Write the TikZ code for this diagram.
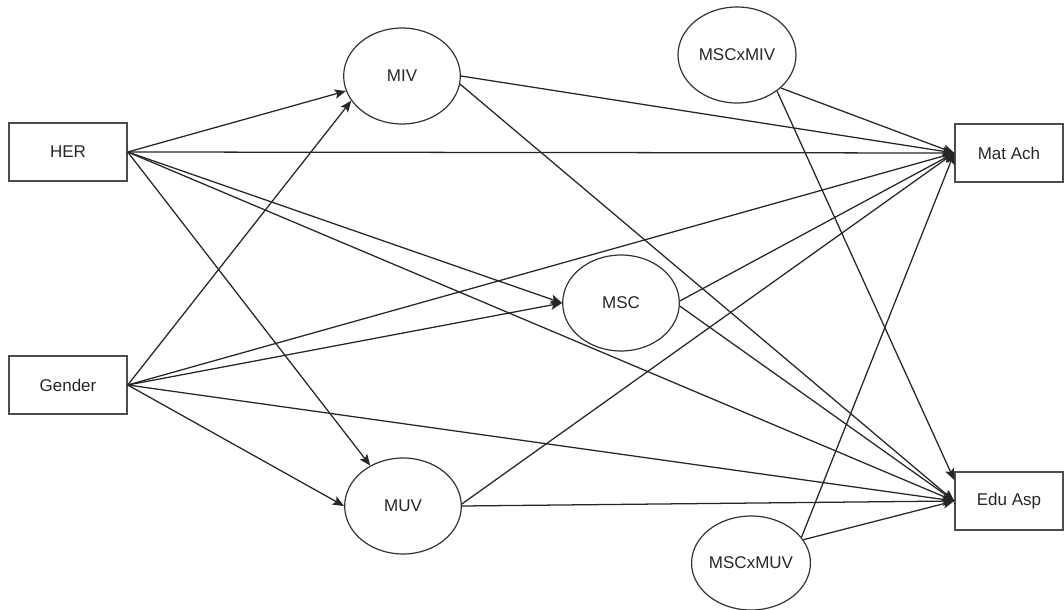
\documentclass[tikz,border=0pt]{standalone}
\usepackage{fontspec}
\setmainfont{Liberation Sans}
\usetikzlibrary{shapes.geometric,arrows.meta}
\begin{document}
\begin{tikzpicture}[x=0.75pt,y=-0.75pt,
  every node/.style={font=\fontsize{12.75}{15}\selectfont, text=black!85},
  boxnode/.style={draw=black!70, line width=1.1pt, rectangle, inner sep=0pt, minimum width=88.5pt, minimum height=43.5pt},
  ovalnode/.style={draw=black!80, line width=0.9pt, ellipse, inner sep=0pt, minimum width=87.5pt, minimum height=72pt},
  link/.style={draw=black!85, line width=0.95pt},
  arr/.style={link, -{Stealth[length=8.5pt,width=7pt,inset=1.8pt]}}
]
\useasboundingbox (0,0) rectangle (1064,610);

% boxes
\node[boxnode] (HER) at (68,152) {HER};
\node[boxnode] (Gender) at (68,385) {Gender};
\node[boxnode, minimum width=81pt] (MatAch) at (1009,153) {Mat Ach};
\node[boxnode, minimum width=81pt] (EduAsp) at (1009,501) {Edu Asp};

% ellipses
\node[ovalnode] (MIV) at (402,76) {MIV};
\node[ovalnode] (MSC) at (621,303) {MSC};
\node[ovalnode] (MUV) at (403,506) {MUV};
\node[ovalnode, minimum width=88.5pt] (MSCxMIV) at (737,55) {MSCxMIV};
\node[ovalnode, minimum width=88.5pt, minimum height=70.5pt] (MSCxMUV) at (751,563) {MSCxMUV};

\coordinate (eduup) at ([yshift=15.75pt]EduAsp.west);

% from HER
\draw[arr] (HER.east) -- (MIV.195);
\draw[arr] (HER.east) -- (MatAch.west);
\draw[arr] (HER.east) -- (MSC.west);
\draw[arr] (HER.east) -- (EduAsp.west);
\draw[arr] (HER.east) -- (MUV.129);

% from Gender
\draw[arr] (Gender.east) -- (MIV.206);
\draw[arr] (Gender.east) -- (MatAch.west);
\draw[arr] (Gender.east) -- (MSC.west);
\draw[arr] (Gender.east) -- (EduAsp.west);
\draw[arr] (Gender.east) -- (MUV.west);

% from mediators
\draw[arr] (MIV.east) -- (MatAch.west);
\draw[arr] (MIV.-8) -- (EduAsp.west);
\draw[arr] (MSC.2) -- (MatAch.west);
\draw[arr] (MSC.-3) -- (EduAsp.west);
\draw[arr] (MUV.2) -- (MatAch.west);
\draw[arr] (MUV.east) -- (EduAsp.west);

% from interactions
\draw[arr] (MSCxMIV.-37) -- (MatAch.west);
\draw[arr] (MSCxMIV.-42) -- (eduup);
\draw[arr] (MSCxMUV.27) -- (MatAch.west);
\draw[arr] (MSCxMUV.24) -- (EduAsp.west);
\end{tikzpicture}
\end{document}
